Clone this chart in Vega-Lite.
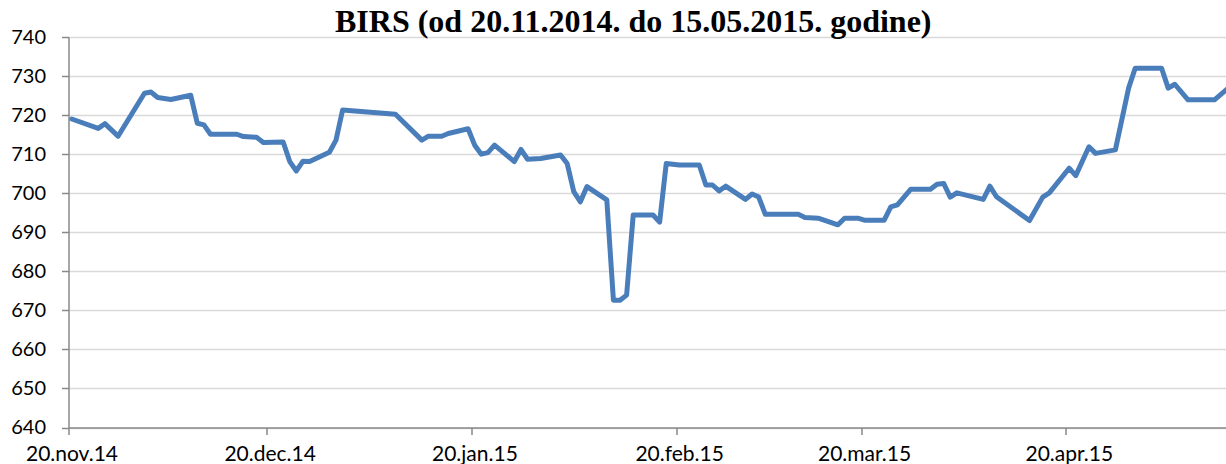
{
  "$schema": "https://vega.github.io/schema/vega-lite/v6.json",
  "width": 1157.5,
  "height": 390.5,
  "autosize": {"type": "none"},
  "padding": {"left": 68.5, "top": 37, "right": 0, "bottom": 36.5},
  "background": "white",
  "title": {
    "text": "BIRS (od 20.11.2014. do 15.05.2015. godine)",
    "font": "Liberation Serif",
    "fontSize": 32,
    "fontWeight": "bold",
    "color": "#000000",
    "anchor": "middle",
    "frame": "group",
    "baseline": "alphabetic",
    "dx": -14,
    "offset": -37
  },
  "data": {
    "values": [
      {"date": "2014-11-20", "value": 719.0},
      {"date": "2014-11-24", "value": 716.6},
      {"date": "2014-11-25", "value": 717.8},
      {"date": "2014-11-27", "value": 714.6},
      {"date": "2014-12-01", "value": 725.6},
      {"date": "2014-12-02", "value": 725.9},
      {"date": "2014-12-03", "value": 724.5},
      {"date": "2014-12-05", "value": 724.0},
      {"date": "2014-12-08", "value": 725.1},
      {"date": "2014-12-09", "value": 717.9},
      {"date": "2014-12-10", "value": 717.5},
      {"date": "2014-12-11", "value": 715.1},
      {"date": "2014-12-15", "value": 715.1},
      {"date": "2014-12-16", "value": 714.5},
      {"date": "2014-12-18", "value": 714.3},
      {"date": "2014-12-19", "value": 713.0},
      {"date": "2014-12-22", "value": 713.1},
      {"date": "2014-12-23", "value": 708.1},
      {"date": "2014-12-24", "value": 705.7},
      {"date": "2014-12-25", "value": 708.2},
      {"date": "2014-12-26", "value": 708.1},
      {"date": "2014-12-29", "value": 710.5},
      {"date": "2014-12-30", "value": 713.6},
      {"date": "2014-12-31", "value": 721.3},
      {"date": "2015-01-08", "value": 720.2},
      {"date": "2015-01-12", "value": 713.6},
      {"date": "2015-01-13", "value": 714.6},
      {"date": "2015-01-15", "value": 714.6},
      {"date": "2015-01-16", "value": 715.3},
      {"date": "2015-01-19", "value": 716.5},
      {"date": "2015-01-20", "value": 712.3},
      {"date": "2015-01-21", "value": 710.0},
      {"date": "2015-01-22", "value": 710.4},
      {"date": "2015-01-23", "value": 712.3},
      {"date": "2015-01-26", "value": 708.1},
      {"date": "2015-01-27", "value": 711.2},
      {"date": "2015-01-28", "value": 708.7},
      {"date": "2015-01-30", "value": 708.9},
      {"date": "2015-02-02", "value": 709.8},
      {"date": "2015-02-03", "value": 707.6},
      {"date": "2015-02-04", "value": 700.4},
      {"date": "2015-02-05", "value": 697.8},
      {"date": "2015-02-06", "value": 701.7},
      {"date": "2015-02-09", "value": 698.3},
      {"date": "2015-02-10", "value": 672.6},
      {"date": "2015-02-11", "value": 672.6},
      {"date": "2015-02-12", "value": 673.9},
      {"date": "2015-02-13", "value": 694.4},
      {"date": "2015-02-16", "value": 694.4},
      {"date": "2015-02-17", "value": 692.6},
      {"date": "2015-02-18", "value": 707.6},
      {"date": "2015-02-20", "value": 707.2},
      {"date": "2015-02-23", "value": 707.2},
      {"date": "2015-02-24", "value": 702.1},
      {"date": "2015-02-25", "value": 702.1},
      {"date": "2015-02-26", "value": 700.6},
      {"date": "2015-02-27", "value": 701.8},
      {"date": "2015-03-02", "value": 698.4},
      {"date": "2015-03-03", "value": 699.8},
      {"date": "2015-03-04", "value": 699.0},
      {"date": "2015-03-05", "value": 694.6},
      {"date": "2015-03-10", "value": 694.6},
      {"date": "2015-03-11", "value": 693.8},
      {"date": "2015-03-13", "value": 693.6},
      {"date": "2015-03-16", "value": 691.9},
      {"date": "2015-03-17", "value": 693.6},
      {"date": "2015-03-19", "value": 693.6},
      {"date": "2015-03-20", "value": 693.1},
      {"date": "2015-03-23", "value": 693.1},
      {"date": "2015-03-24", "value": 696.5},
      {"date": "2015-03-25", "value": 697.0},
      {"date": "2015-03-27", "value": 701.0},
      {"date": "2015-03-30", "value": 701.0},
      {"date": "2015-03-31", "value": 702.3},
      {"date": "2015-04-01", "value": 702.5},
      {"date": "2015-04-02", "value": 699.0},
      {"date": "2015-04-03", "value": 700.1},
      {"date": "2015-04-07", "value": 698.4},
      {"date": "2015-04-08", "value": 701.8},
      {"date": "2015-04-09", "value": 699.1},
      {"date": "2015-04-14", "value": 693.0},
      {"date": "2015-04-16", "value": 699.0},
      {"date": "2015-04-17", "value": 700.1},
      {"date": "2015-04-20", "value": 706.4},
      {"date": "2015-04-21", "value": 704.5},
      {"date": "2015-04-23", "value": 711.9},
      {"date": "2015-04-24", "value": 710.2},
      {"date": "2015-04-27", "value": 711.1},
      {"date": "2015-04-29", "value": 726.9},
      {"date": "2015-04-30", "value": 732.0},
      {"date": "2015-05-04", "value": 732.0},
      {"date": "2015-05-05", "value": 726.9},
      {"date": "2015-05-06", "value": 727.9},
      {"date": "2015-05-08", "value": 723.9},
      {"date": "2015-05-12", "value": 723.9},
      {"date": "2015-05-14", "value": 726.8}
    ]
  },
  "mark": {
    "type": "line",
    "color": "#4a7ebb",
    "strokeWidth": 5,
    "strokeJoin": "round",
    "strokeCap": "round",
    "clip": true
  },
  "encoding": {
    "x": {
      "field": "date",
      "type": "temporal",
      "timeUnit": "utcyearmonthdate",
      "bandPosition": 0.5,
      "scale": {
        "domain": [
          {"year": 2014, "month": 11, "date": 20, "utc": true},
          {"year": 2015, "month": 5, "date": 14, "hours": 6, "utc": true}
        ]
      },
      "axis": {
        "title": null,
        "values": [
          {"year": 2014, "month": 11, "date": 20, "utc": true},
          {"year": 2014, "month": 12, "date": 20, "utc": true},
          {"year": 2015, "month": 1, "date": 20, "utc": true},
          {"year": 2015, "month": 2, "date": 20, "utc": true},
          {"year": 2015, "month": 3, "date": 20, "utc": true},
          {"year": 2015, "month": 4, "date": 20, "utc": true}
        ],
        "labelExpr": "lower(utcFormat(datum.value, '%d.%b.%y'))",
        "labelFont": "Lato",
        "labelFontSize": 21,
        "labelColor": "#000000",
        "labelOffset": 3,
        "labelPadding": 9,
        "labelBaseline": "top",
        "labelOverlap": false,
        "labelFlush": false,
        "grid": false,
        "domainColor": "#898989",
        "domainWidth": 1.5,
        "tickColor": "#898989",
        "tickWidth": 1.5,
        "tickSize": 7
      }
    },
    "y": {
      "field": "value",
      "type": "quantitative",
      "scale": {"domain": [640, 740], "zero": false, "nice": false},
      "axis": {
        "title": null,
        "values": [640, 650, 660, 670, 680, 690, 700, 710, 720, 730, 740],
        "labelFont": "Lato",
        "labelFontSize": 20,
        "labelColor": "#000000",
        "labelPadding": 16,
        "labelBaseline": "middle",
        "labelOverlap": false,
        "labelFlush": false,
        "grid": true,
        "gridColor": "#d9d9d9",
        "gridWidth": 1.5,
        "domainColor": "#898989",
        "domainWidth": 1.5,
        "tickColor": "#898989",
        "tickWidth": 1.5,
        "tickSize": 7
      }
    }
  },
  "config": {
    "view": {"stroke": null}
  }
}
